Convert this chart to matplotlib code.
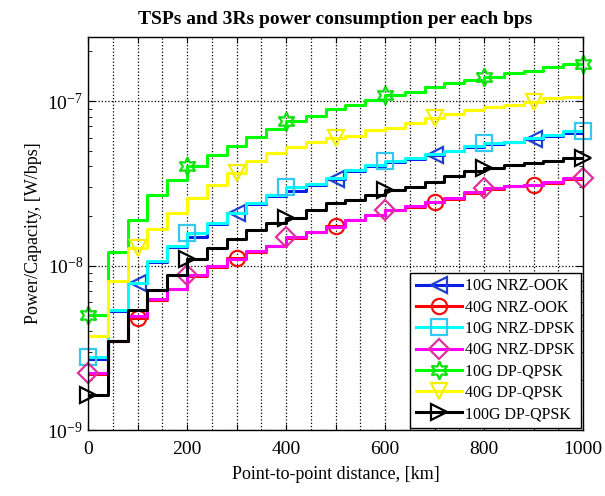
import numpy as np
import matplotlib.pyplot as plt
from matplotlib.lines import Line2D
from matplotlib.ticker import FixedLocator, FuncFormatter, NullFormatter

plt.rcParams['font.family'] = ['Liberation Serif', 'DejaVu Serif']
plt.rcParams['mathtext.fontset'] = 'custom'
plt.rcParams['mathtext.rm'] = 'Liberation Serif'

# step edges, every 40 km
dist = np.arange(0, 1001, 40)

nrz_ook_10 = [2.7e-9, 5.3e-9, 7.8e-9, 1.05e-8, 1.29e-8, 1.5e-8, 1.8e-8, 2.08e-8, 2.38e-8, 2.65e-8,
              2.85e-8, 3.1e-8, 3.38e-8, 3.78e-8, 4.0e-8, 4.25e-8, 4.45e-8, 4.72e-8, 4.95e-8, 5.25e-8,
              5.5e-8, 5.62e-8, 5.9e-8, 6.15e-8, 6.4e-8]
nrz_ook_40 = [2.2e-9, 3.5e-9, 4.8e-9, 6.2e-9, 7.2e-9, 8.6e-9, 9.8e-9, 1.11e-8, 1.21e-8, 1.32e-8,
              1.48e-8, 1.59e-8, 1.73e-8, 1.88e-8, 2.03e-8, 2.16e-8, 2.28e-8, 2.42e-8, 2.55e-8, 2.76e-8,
              2.93e-8, 3.04e-8, 3.1e-8, 3.18e-8, 3.35e-8]
nrz_dpsk_10 = [2.78e-9, 5.4e-9, 7.8e-9, 1.06e-8, 1.31e-8, 1.58e-8, 1.82e-8, 2.1e-8, 2.4e-8, 2.7e-8,
               3.0e-8, 3.14e-8, 3.4e-8, 3.82e-8, 4.1e-8, 4.3e-8, 4.5e-8, 4.77e-8, 5.0e-8, 5.3e-8,
               5.55e-8, 5.67e-8, 5.94e-8, 6.23e-8, 6.6e-8]
nrz_dpsk_40 = [2.21e-9, 3.5e-9, 4.9e-9, 6.3e-9, 7.2e-9, 8.7e-9, 9.9e-9, 1.1e-8, 1.22e-8, 1.32e-8,
               1.5e-8, 1.6e-8, 1.72e-8, 1.9e-8, 2.04e-8, 2.18e-8, 2.29e-8, 2.42e-8, 2.57e-8, 2.78e-8,
               2.96e-8, 3.06e-8, 3.1e-8, 3.2e-8, 3.4e-8]
dp_qpsk_10 = [5.0e-9, 1.2e-8, 1.9e-8, 2.67e-8, 3.32e-8, 4.04e-8, 4.71e-8, 5.33e-8, 6.03e-8, 6.8e-8,
              7.6e-8, 8.1e-8, 8.9e-8, 9.46e-8, 1.01e-7, 1.09e-7, 1.14e-7, 1.22e-7, 1.28e-7, 1.34e-7,
              1.4e-7, 1.48e-7, 1.53e-7, 1.61e-7, 1.69e-7]
dp_qpsk_40 = [3.73e-9, 8.1e-9, 1.27e-8, 1.67e-8, 2.1e-8, 2.58e-8, 3.1e-8, 3.65e-8, 4.29e-8, 4.82e-8,
              5.28e-8, 5.66e-8, 6.0e-8, 6.1e-8, 6.67e-8, 6.9e-8, 7.3e-8, 7.85e-8, 8.3e-8, 8.8e-8,
              9.15e-8, 9.5e-8, 9.9e-8, 1.04e-7, 1.06e-7]
dp_qpsk_100 = [1.63e-9, 3.5e-9, 5.4e-9, 7.07e-9, 8.8e-9, 1.09e-8, 1.28e-8, 1.44e-8, 1.65e-8, 1.82e-8,
               1.95e-8, 2.18e-8, 2.4e-8, 2.51e-8, 2.7e-8, 2.89e-8, 3.0e-8, 3.24e-8, 3.48e-8, 3.73e-8,
               3.9e-8, 4.1e-8, 4.2e-8, 4.29e-8, 4.5e-8]

labels = ['10G NRZ-OOK', '40G NRZ-OOK', '10G NRZ-DPSK', '40G NRZ-DPSK',
          '10G DP-QPSK', '40G DP-QPSK', '100G DP-QPSK']
odd_marks = [100, 300, 500, 700, 900]
even_marks = [0, 200, 400, 600, 800, 1000]

series = [
    (nrz_ook_10, '#0a1ee6', '#1f3fd0', '<', odd_marks),
    (nrz_ook_40, '#ff0000', '#f01010', 'o', odd_marks),
    (nrz_dpsk_10, '#00ffff', '#33c8f0', 's', even_marks),
    (nrz_dpsk_40, '#ff00ff', '#e0309a', 'D', even_marks),
    (dp_qpsk_10, '#00ff00', '#10e010', (6, 1, 0), even_marks),
    (dp_qpsk_40, '#ffff00', '#f5f000', 'v', odd_marks),
    (dp_qpsk_100, '#000000', '#000000', '>', even_marks),
]

fig = plt.figure(figsize=(6.05, 4.96), dpi=100)
ax = fig.add_axes([88/605, 1-430/496, (583-88)/605, (430-37)/496])

handles = []
for (vals, lc, mc, mk, marks), lab in zip(series, labels):
    yv = np.append(vals, vals[-1])
    ax.step(dist, yv, where='post', color=lc, lw=2.2)
    ym = [vals[min(int(m // 40), len(vals)-1)] for m in marks]
    ms = 13 if mk == (6, 1, 0) else 11
    if mk == 'D':
        ms = 10
    ax.plot(marks, ym, ls='none', marker=mk, ms=ms, mfc='none', mec=mc, mew=1.6, clip_on=False)
    handles.append(Line2D([], [], color=lc, lw=2.2, marker=mk, ms=ms, mfc='none', mec=mc, mew=1.6))

ax.set_yscale('log')
ax.set_xlim(0, 1000)
ax.set_ylim(1e-9, 2.45e-7)

# ticks every 100, labels every 200, grid every 50
ax.xaxis.set_major_locator(FixedLocator(np.arange(0, 1001, 100)))
ax.xaxis.set_major_formatter(FuncFormatter(lambda v, p: '' if int(round(v)) % 200 else '%d' % v))
ax.xaxis.set_minor_locator(FixedLocator(np.arange(50, 1000, 100)))
ax.tick_params(which='both', direction='in', top=True, right=True, labelsize=14)
ax.tick_params(axis='x', which='minor', length=0)
ax.tick_params(axis='x', which='major', length=4, pad=8)
ax.tick_params(axis='y', which='major', length=5)
ax.tick_params(axis='y', which='minor', length=3)
ax.yaxis.set_minor_formatter(NullFormatter())

ax.grid(True, which='major', axis='both', ls=':', color='black', lw=0.9)
ax.grid(True, which='minor', axis='x', ls=':', color='black', lw=0.9)

ax.set_title('TSPs and 3Rs power consumption per each bps', fontsize=14, fontweight='bold', pad=9)
ax.set_xlabel('Point-to-point distance, [km]', fontsize=13, labelpad=6)
ax.set_ylabel('Power/Capacity, [W/bps]', fontsize=13, labelpad=4)

leg = ax.legend(handles, labels, loc='lower right', fontsize=11.5, handlelength=2.9,
                labelspacing=0.33, handletextpad=0.2, borderpad=0.35, borderaxespad=0.15,
                fancybox=False, edgecolor='black', framealpha=1)
leg.get_frame().set_linewidth(1.0)

for s in ax.spines.values():
    s.set_linewidth(1.0)

fig.savefig('out.png', dpi=100)
